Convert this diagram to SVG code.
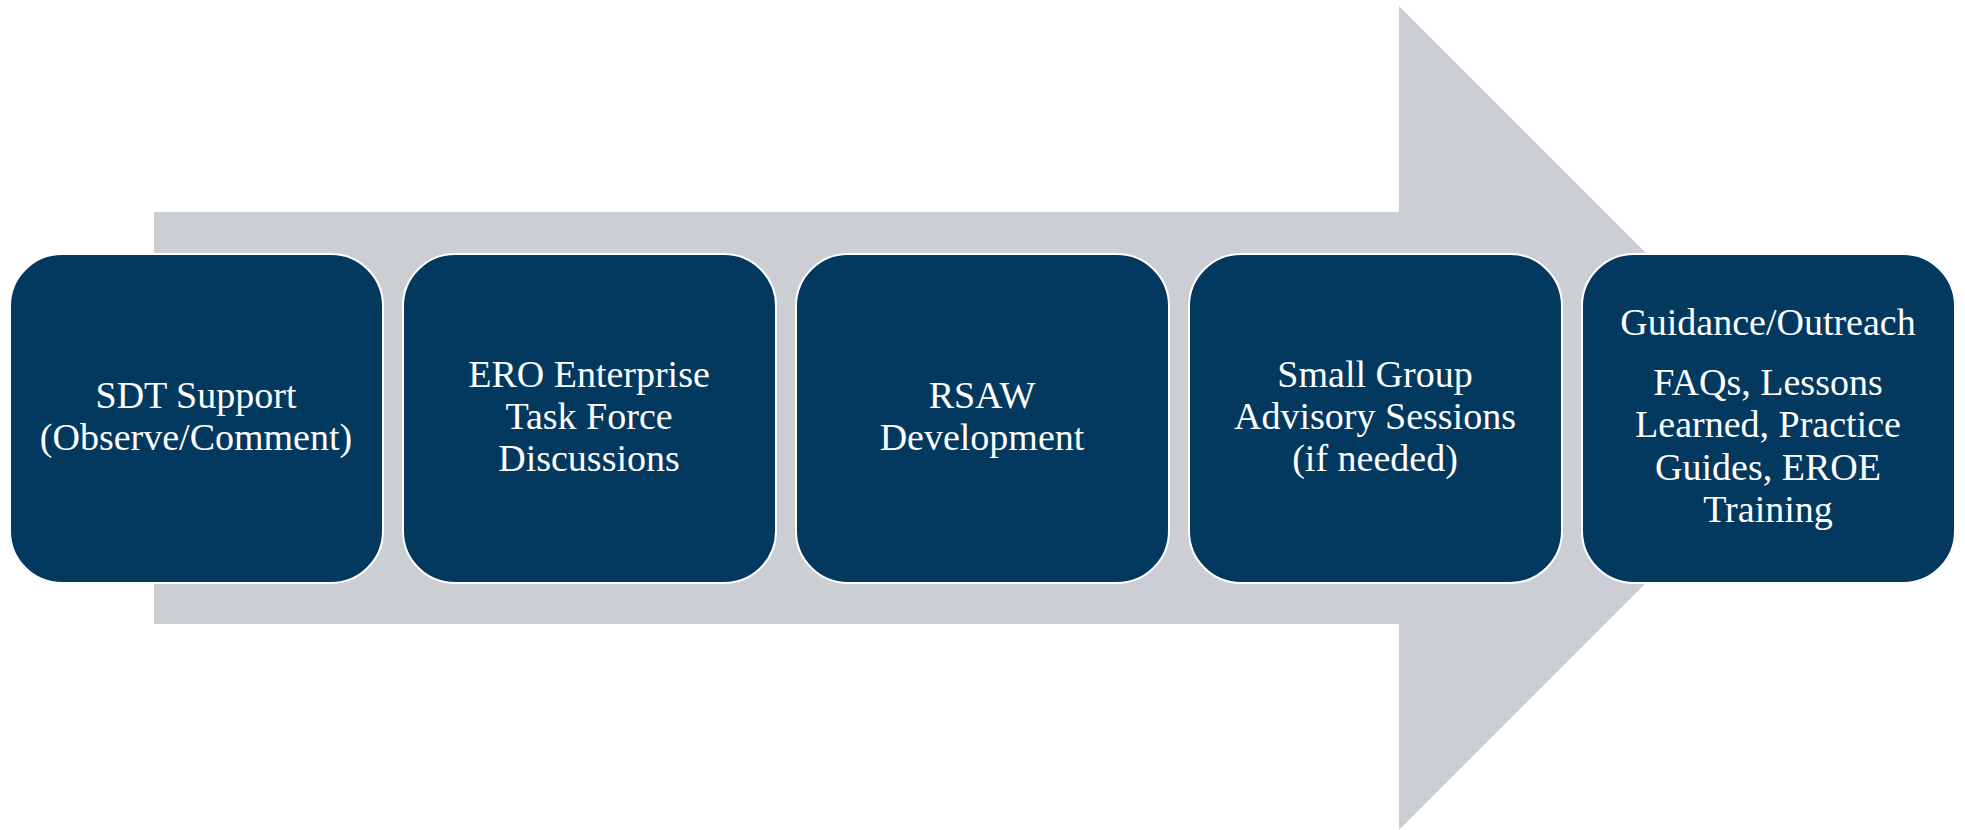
<svg xmlns="http://www.w3.org/2000/svg" width="1965" height="830" viewBox="0 0 1965 830">
<style>
.box{fill:#03395F;stroke:#FFFFFF;stroke-width:2}
.t{font-family:"Liberation Serif","Times New Roman",serif;font-size:38px;fill:#FFFFFF;text-anchor:middle}
</style>
<rect width="1965" height="830" fill="#FFFFFF"/>
<g id="connectors">
<polygon points="154,212 1399,212 1399,6 1811,418 1399,830 1399,624 154,624" fill="#CBCED3"/>
</g>
<g id="node1">
<rect class="box" x="10" y="254" width="373" height="329" rx="52" ry="52"/>
<text class="t" x="196" y="408">SDT Support</text>
<text class="t" x="196" y="450">(Observe/Comment)</text>
</g>
<g id="node2">
<rect class="box" x="403" y="254" width="373" height="329" rx="52" ry="52"/>
<text class="t" x="589" y="387">ERO Enterprise</text>
<text class="t" x="589" y="429">Task Force</text>
<text class="t" x="589" y="471">Discussions</text>
</g>
<g id="node3">
<rect class="box" x="796" y="254" width="373" height="329" rx="52" ry="52"/>
<text class="t" x="982" y="408">RSAW</text>
<text class="t" x="982" y="450">Development</text>
</g>
<g id="node4">
<rect class="box" x="1189" y="254" width="373" height="329" rx="52" ry="52"/>
<text class="t" x="1375" y="387">Small Group</text>
<text class="t" x="1375" y="429">Advisory Sessions</text>
<text class="t" x="1375" y="471">(if needed)</text>
</g>
<g id="node5">
<rect class="box" x="1582" y="254" width="373" height="329" rx="52" ry="52"/>
<text class="t" x="1768" y="335">Guidance/Outreach</text>
<text class="t" x="1768" y="395">FAQs, Lessons</text>
<text class="t" x="1768" y="437">Learned, Practice</text>
<text class="t" x="1768" y="480">Guides, EROE</text>
<text class="t" x="1768" y="522">Training</text>
</g>
</svg>
